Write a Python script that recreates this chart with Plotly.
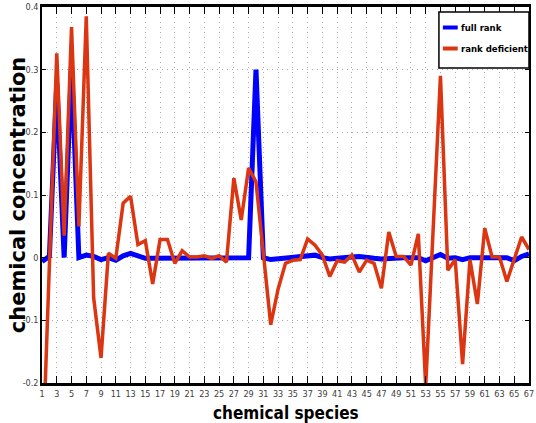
import plotly.graph_objects as go

# chemical species index and estimated concentrations
species = list(range(1, 68))

full_rank = [
    -0.006, 0.002, 0.278, 0.0, 0.307, 0.0, 0.004, 0.002, -0.003, 0.0,
    -0.004, 0.003, 0.007, 0.002, -0.001, -0.001, -0.001, 0.0, 0.001, 0.001,
    0.0, 0.0, 0.001, 0.0, 0.0, 0.0, 0.0, 0.0, 0.0, 0.300,
    0.0, -0.003, -0.002, -0.001, 0.0, 0.001, 0.003, 0.004, 0.0, -0.002,
    -0.001, -0.001, 0.001, 0.002, 0.0, -0.001, -0.002, -0.001, 0.0, 0.0,
    0.0, 0.0, -0.005, -0.001, 0.005, -0.001, 0.0, -0.003, 0.0, 0.0,
    0.0, 0.0, 0.0, 0.0, -0.005, 0.002, 0.006,
]

rank_deficient = [
    -0.35, -0.01, 0.326, 0.035, 0.368, 0.05, 0.385, -0.064, -0.16, 0.007,
    -0.001, 0.087, 0.098, 0.021, 0.027, -0.042, 0.029, 0.029, -0.009, 0.011,
    0.001, 0.001, 0.003, -0.001, 0.003, -0.007, 0.127, 0.06, 0.143, 0.121,
    0.005, -0.107, -0.05, -0.009, -0.004, -0.003, 0.03, 0.02, 0.004, -0.03,
    -0.005, -0.007, 0.004, -0.023, -0.004, -0.009, -0.049, 0.041, 0.002, 0.002,
    -0.012, 0.038, -0.205, 0.045, 0.29, -0.02, -0.003, -0.17, -0.003, -0.074,
    0.047, 0.001, 0.001, -0.038, -0.003, 0.033, 0.013,
]

x_tick_values = list(range(1, 68, 2))
x_tick_labels = [str(v) for v in x_tick_values]
y_tick_values = [-0.2, -0.1, 0.0, 0.1, 0.2, 0.3, 0.4]
y_tick_labels = ["-0.2", "-0.1", "0", "0.1", "0.2", "0.3", "0.4"]

series_names = ["full rank", "rank deficient"]
series_colors = ["#0000FF", "#DC3512"]

NARROW = "DejaVu Sans Condensed, Liberation Sans, sans-serif"
WIDE = "DejaVu Sans, Verdana, sans-serif"

fig = go.Figure()
fig.add_trace(go.Scatter(
    x=species, y=full_rank, mode="lines", name=series_names[0],
    line=dict(color=series_colors[0], width=5), showlegend=False,
))
fig.add_trace(go.Scatter(
    x=species, y=rank_deficient, mode="lines", name=series_names[1],
    line=dict(color=series_colors[1], width=3.5), showlegend=False,
))

axis_common = dict(
    showline=True, linecolor="black", mirror="allticks",
    ticks="inside", tickcolor="black", tickwidth=1,
    showgrid=True, gridcolor="#a8a8a8", gridwidth=1, griddash="1px,4px",
    zeroline=False, ticklabeloverflow="allow",
    tickfont=dict(family=NARROW, size=9, color="#404040"),
)

fig.update_xaxes(
    range=[1, 67], tickmode="array", tickvals=x_tick_values, ticktext=x_tick_labels,
    linewidth=2.5, ticklen=7, **axis_common,
)
fig.update_yaxes(
    range=[-0.2, 0.4], tickmode="array", tickvals=y_tick_values, ticktext=y_tick_labels,
    linewidth=1.5, ticklen=4, **axis_common,
)

# plot area in pixels: x 42..534, y 7..383
L, R, T, B = 42, 534, 7, 383
W, H = R - L, B - T


def px(xp):
    return (xp - L) / W


def py(yp):
    return (B - yp) / H


annotations = [
    dict(text="<b>chemical species</b>", x=px(288), y=py(413),
         xref="paper", yref="paper", xanchor="center", yanchor="middle",
         showarrow=False, font=dict(family=NARROW, size=17, color="black")),
    dict(text="<b>chemical concentration</b>", x=px(18), y=py(195),
         xref="paper", yref="paper", xanchor="center", yanchor="middle",
         textangle=-90, showarrow=False,
         font=dict(family=WIDE, size=21, color="black")),
]

# legend box drawn in paper coordinates
shapes = [
    dict(type="rect", xref="paper", yref="paper",
         x0=px(443), x1=px(534), y0=py(68), y1=py(12),
         fillcolor="white", line=dict(color="black", width=1.5), layer="above"),
]
legend_rows = [27.5, 48.5]
for name, color, row in zip(series_names, series_colors, legend_rows):
    shapes.append(dict(type="line", xref="paper", yref="paper",
                       x0=px(447), x1=px(462), y0=py(row), y1=py(row),
                       line=dict(color=color, width=4), layer="above"))
    annotations.append(dict(text="<b>" + name + "</b>", x=px(463), y=py(row),
                            xref="paper", yref="paper", xanchor="left", yanchor="middle",
                            showarrow=False,
                            font=dict(family=NARROW, size=9.5, color="black")))

fig.update_layout(
    width=536, height=423,
    margin=dict(l=L, r=536 - R, t=T, b=423 - B),
    paper_bgcolor="white", plot_bgcolor="white",
    shapes=shapes, annotations=annotations,
    showlegend=False,
)

fig.write_html("out.html")
